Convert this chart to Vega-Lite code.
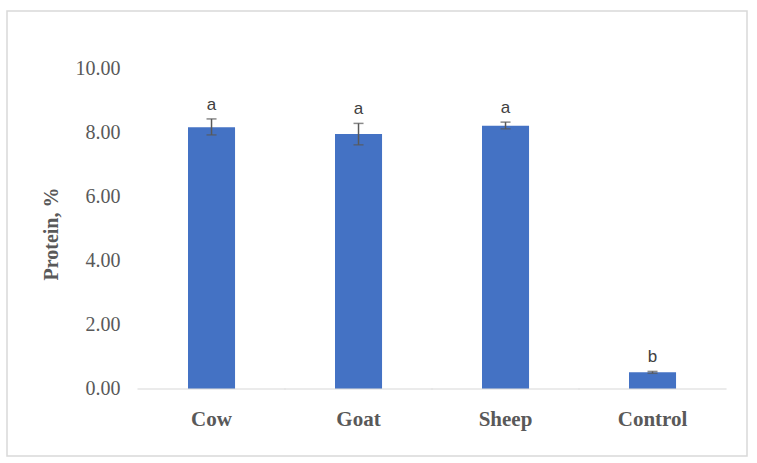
{
  "$schema": "https://vega.github.io/schema/vega-lite/v6.json",
  "autosize": {"type": "none"},
  "width": 740,
  "height": 445,
  "padding": {"left": 7, "top": 11, "right": 10, "bottom": 7},
  "background": "white",
  "config": {
    "view": {"stroke": "#D9D9D9", "strokeWidth": 1.5},
    "axis": {"grid": false}
  },
  "data": {
    "values": [
      {"group": "Cow", "protein": 8.18, "lo": 7.94, "hi": 8.44, "letter": "a"},
      {"group": "Goat", "protein": 7.97, "lo": 7.63, "hi": 8.30, "letter": "a"},
      {"group": "Sheep", "protein": 8.23, "lo": 8.13, "hi": 8.34, "letter": "a"},
      {"group": "Control", "protein": 0.52, "lo": 0.49, "hi": 0.55, "letter": "b"}
    ]
  },
  "encoding": {
    "x": {
      "field": "group",
      "type": "nominal",
      "sort": null,
      "scale": {"paddingInner": 0, "paddingOuter": 0.517, "align": 0.862},
      "axis": {
        "title": null,
        "labelAngle": 0,
        "domain": false,
        "ticks": false,
        "offset": -67,
        "labelPadding": 19,
        "labelFont": "Liberation Serif",
        "labelFontWeight": "bold",
        "labelFontSize": 21,
        "labelColor": "#595959"
      }
    }
  },
  "layer": [
    {
      "mark": {"type": "bar", "color": "#4472C4", "width": {"band": 0.32}},
      "encoding": {
        "y": {
          "field": "protein",
          "type": "quantitative",
          "scale": {"domain": [-2.094, 11.8125], "nice": false, "zero": false},
          "axis": {
            "title": "Protein, %",
            "values": [0, 2, 4, 6, 8, 10],
            "format": ".2f",
            "domain": false,
            "ticks": false,
            "offset": -113,
            "labelPadding": 0,
            "labelFont": "Liberation Serif",
            "labelFontSize": 20,
            "labelColor": "#595959",
            "titleFont": "Liberation Serif",
            "titleFontWeight": "bold",
            "titleFontSize": 20,
            "titleColor": "#595959",
            "titlePadding": 14
          }
        }
      }
    },
    {
      "mark": {"type": "tick", "color": "#D9D9D9", "thickness": 1.5, "size": 148, "orient": "horizontal"},
      "encoding": {
        "y": {"datum": 0, "type": "quantitative"}
      }
    },
    {
      "mark": {"type": "rule", "color": "#595959", "strokeWidth": 1.5},
      "encoding": {
        "y": {"field": "lo", "type": "quantitative"},
        "y2": {"field": "hi"}
      }
    },
    {
      "mark": {"type": "tick", "color": "#595959", "thickness": 1.5, "size": 10, "orient": "horizontal"},
      "encoding": {
        "y": {"field": "lo", "type": "quantitative"}
      }
    },
    {
      "mark": {"type": "tick", "color": "#595959", "thickness": 1.5, "size": 10, "orient": "horizontal"},
      "encoding": {
        "y": {"field": "hi", "type": "quantitative"}
      }
    },
    {
      "mark": {"type": "text", "font": "Liberation Sans", "fontSize": 17, "color": "#404040", "baseline": "alphabetic", "dy": -9},
      "encoding": {
        "y": {"field": "hi", "type": "quantitative"},
        "text": {"field": "letter"}
      }
    }
  ]
}
